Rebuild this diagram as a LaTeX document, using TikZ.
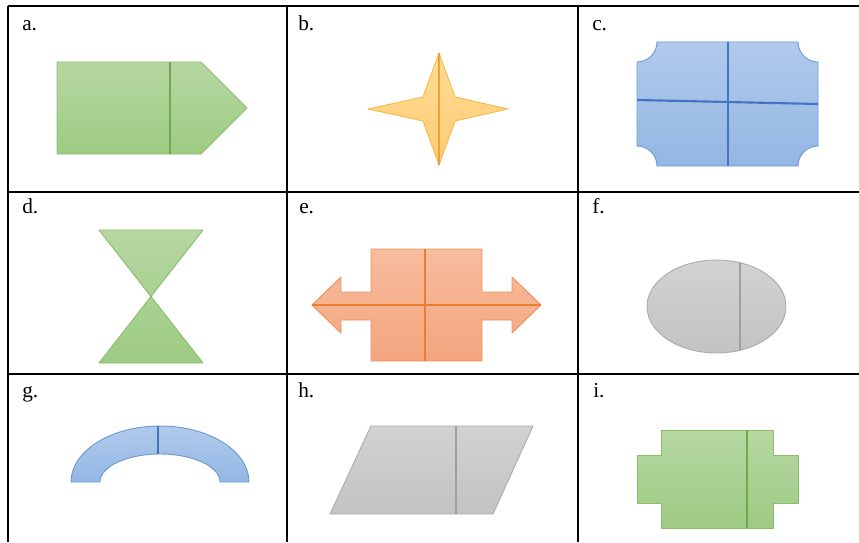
\documentclass[tikz,border=0pt]{standalone}
\usepackage{xcolor}
\usepackage{fontspec}
\setmainfont{Liberation Serif}
\usepackage{tikz}
\usetikzlibrary{positioning}
\definecolor{greentop}{HTML}{B6D7A1}
\definecolor{greenbot}{HTML}{9DCB83}
\definecolor{greenline}{HTML}{8CBD6C}
\definecolor{greendiv}{HTML}{6FAA48}
\definecolor{yellowtop}{HTML}{FFDC96}
\definecolor{yellowbot}{HTML}{FFCB72}
\definecolor{yellowline}{HTML}{F3BD4A}
\definecolor{yellowdiv}{HTML}{EBA23C}
\definecolor{bluetop}{HTML}{B0CAEC}
\definecolor{bluebot}{HTML}{94B6E3}
\definecolor{blueline}{HTML}{6E9BD5}
\definecolor{bluediv}{HTML}{4573C4}
\definecolor{orangetop}{HTML}{F7BC9D}
\definecolor{orangebot}{HTML}{F4A57E}
\definecolor{orangeline}{HTML}{EE925C}
\definecolor{orangediv}{HTML}{ED7D31}
\definecolor{graytop}{HTML}{D2D2D2}
\definecolor{graybot}{HTML}{C3C3C3}
\definecolor{grayline}{HTML}{ADADAD}
\definecolor{graydiv}{HTML}{A0A0A0}

\begin{document}
\begin{tikzpicture}[x=0.75pt, y=-0.75pt, font=\fontsize{16}{18}\selectfont,
    lbl/.style={anchor=base west, inner sep=0pt},
    tableline/.style={black, line width=1.5pt},
    greenshape/.style={draw=greenline, top color=greentop, bottom color=greenbot, line width=0.7pt, line join=round},
    yellowshape/.style={draw=yellowline, top color=yellowtop, bottom color=yellowbot, line width=0.7pt, line join=round},
    blueshape/.style={draw=blueline, top color=bluetop, bottom color=bluebot, line width=0.7pt, line join=round},
    orangeshape/.style={draw=orangeline, top color=orangetop, bottom color=orangebot, line width=0.7pt, line join=round},
    grayshape/.style={draw=grayline, top color=graytop, bottom color=graybot, line width=0.7pt, line join=round},
    greendivider/.style={greendiv, line width=1.6pt},
    yellowdivider/.style={yellowdiv, line width=1.2pt},
    bluedivider/.style={bluediv, line width=1.6pt},
    orangedivider/.style={orangediv, line width=1.6pt},
    graydivider/.style={graydiv, line width=1.5pt}]

  \useasboundingbox (0,0) rectangle (859,542);

  % table grid
  \draw[tableline] (7.5,6) -- (859,6);
  \draw[tableline] (7.5,192) -- (859,192);
  \draw[tableline] (7.5,373.5) -- (859,373.5);
  \draw[tableline] (7.5,6) -- (7.5,542);
  \draw[tableline] (287,6) -- (287,542);
  \draw[tableline] (577.5,6) -- (577.5,542);

  % cell labels
  \node[lbl] (la) at (22,31) {a.};
  \node[lbl] (lb) at (298,31) {b.};
  \node[lbl] (lc) at (592,31) {c.};
  \node[lbl] (ld) at (22,213) {d.};
  \node[lbl] (le) at (299,213) {e.};
  \node[lbl] (lf) at (592,213) {f.};
  \node[lbl] (lg) at (22,397) {g.};
  \node[lbl] (lh) at (298,397) {h.};
  \node[lbl] (li) at (593,397) {i.};

  % a. pentagon
  \draw[greenshape] (57,62) -- (201,62) -- (247,108) -- (201,154) -- (57,154) -- cycle;
  \draw[greendivider] (170,62) -- (170,154);

  % b. four-point star
  \draw[yellowshape] (439,53) -- (455,97) -- (508,109) -- (455,121) -- (439,165)
    -- (423,121) -- (368,109) -- (423,97) -- cycle;
  \draw[yellowdivider] (439,53) -- (439,165);

  % c. plaque
  \draw[blueshape] (658,42) -- (798,42) arc[start angle=180, end angle=90, radius=20]
    -- (818,146) arc[start angle=270, end angle=180, radius=20]
    -- (657,166) arc[start angle=0, end angle=-90, radius=20]
    -- (637,62) arc[start angle=90, end angle=0, radius=20] -- cycle;
  \draw[bluedivider] (728,42) -- (728,166);
  \draw[bluedivider] (637,100) -- (818,104);

  % d. hourglass
  \draw[greenshape] (99,230) -- (203,230) -- (99,363) -- (203,363) -- cycle;

  % e. left-right arrow callout
  \draw[orangeshape] (312,305) -- (341,277) -- (341,292) -- (371,292) -- (371,249)
    -- (482,249) -- (482,292) -- (512,292) -- (512,277) -- (541,305) -- (512,333)
    -- (512,320) -- (482,320) -- (482,361) -- (371,361) -- (371,320) -- (341,320)
    -- (341,333) -- cycle;
  \draw[orangedivider] (425,249) -- (425,361);
  \draw[orangedivider] (312,305) -- (541,305);

  % f. ellipse
  \draw[grayshape] (716.5,306.5) ellipse[x radius=69.5, y radius=46.5];
  \draw[graydivider] (739.5,262.6) -- (739.5,350.4);

  % g. block arc
  \draw[blueshape] (71,482) arc[start angle=180, end angle=360, x radius=89, y radius=56]
    -- (220,482) arc[start angle=0, end angle=-180, x radius=60, y radius=28] -- cycle;
  \draw[bluedivider, line width=1.2pt] (158,426) -- (158,454);

  % h. parallelogram
  \draw[grayshape] (371,426) -- (533,426) -- (493,514) -- (330,514) -- cycle;
  \draw[graydivider] (456,426) -- (456,514);

  % i. cross-like block
  \draw[greenshape] (661,430) -- (773,430) -- (773,455) -- (798,455) -- (798,503)
    -- (773,503) -- (773,528) -- (661,528) -- (661,503) -- (637,503) -- (637,455)
    -- (661,455) -- cycle;
  \draw[greendivider] (747,430) -- (747,528);
\end{tikzpicture}
\end{document}
